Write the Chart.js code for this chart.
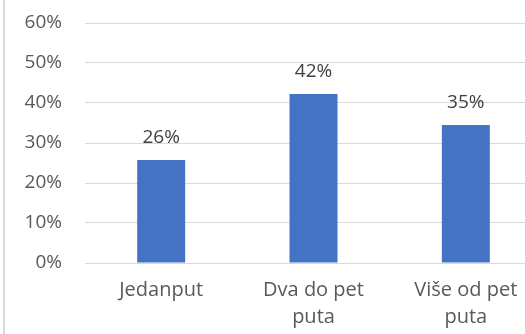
<!DOCTYPE html>
<html>
<head>
<meta charset="utf-8">
<script src="https://cdn.jsdelivr.net/npm/chart.js@4.4.0/dist/chart.umd.min.js"></script>
<style>
  html, body { margin: 0; padding: 0; background: #fff; overflow: hidden; }
  #okvir { position: relative; width: 525px; height: 334px; overflow: hidden; }
  #rub { position: absolute; left: 3px; top: 0; width: 2px; height: 334px; background: #d9d9d9; }
  #platno { position: absolute; left: 0; top: 0; width: 560px; height: 334px; }
</style>
</head>
<body>
<div id="okvir">
  <div id="platno"><canvas id="grafikon"></canvas></div>
  <div id="rub"></div>
</div>
<script>
// Podaci grafikona
const kategorije = [["Jedanput"], ["Dva do pet", "puta"], ["Više od pet", "puta"]];
const vrijednosti = [0.2575, 0.4225, 0.345];
const oznakeOsi = [0, 0.1, 0.2, 0.3, 0.4, 0.5, 0.6];

const font = "'Open Sans', sans-serif";

// Jednostavan dodatak za ispis postotaka iznad stupaca
const oznakeStupaca = {
    id: 'oznakeStupaca',
    afterDatasetsDraw(chart) {
        const c = chart.ctx;
        const meta = chart.getDatasetMeta(0);
        c.save();
        c.font = "19px " + font;
        c.fillStyle = '#404040';
        c.textAlign = 'center';
        c.textBaseline = 'alphabetic';
        meta.data.forEach((bar, i) => {
            c.fillText(Math.round(vrijednosti[i] * 100) + '%', bar.x, bar.y - 17);
        });
        c.restore();
    }
};

const ctx = document.getElementById('grafikon').getContext('2d');
new Chart(ctx, {
    type: 'bar',
    data: {
        labels: kategorije,
        datasets: [{
            data: vrijednosti,
            backgroundColor: '#4472C4',
            categoryPercentage: 1,
            barPercentage: 0.315
        }]
    },
    options: {
        responsive: true,
        maintainAspectRatio: false,
        animation: false,
        layout: { padding: { left: 0, right: 18, top: 23, bottom: 0 } },
        plugins: { legend: { display: false }, tooltip: { enabled: false } },
        scales: {
            x: {
                grid: { display: false, drawTicks: false },
                border: { display: true, color: '#d9d9d9' },
                ticks: { color: '#595959', font: { family: font, size: 20, lineHeight: 1.35 }, padding: 14, maxRotation: 0 },
                afterFit(scale) { scale.height = 71; }
            },
            y: {
                min: 0,
                max: 0.6,
                afterBuildTicks(scale) { scale.ticks = oznakeOsi.map(v => ({ value: v })); },
                grid: { color: '#d9d9d9', drawTicks: false },
                border: { display: false },
                ticks: {
                    color: '#595959',
                    font: { family: font, size: 19 },
                    padding: 23,
                    callback: v => Math.round(v * 100) + '%'
                },
                afterFit(scale) {
                    scale.width = 85;
                    scale.paddingTop = 0;
                    scale.paddingBottom = 0;
                }
            }
        }
    },
    plugins: [oznakeStupaca]
});
</script>
</body>
</html>
